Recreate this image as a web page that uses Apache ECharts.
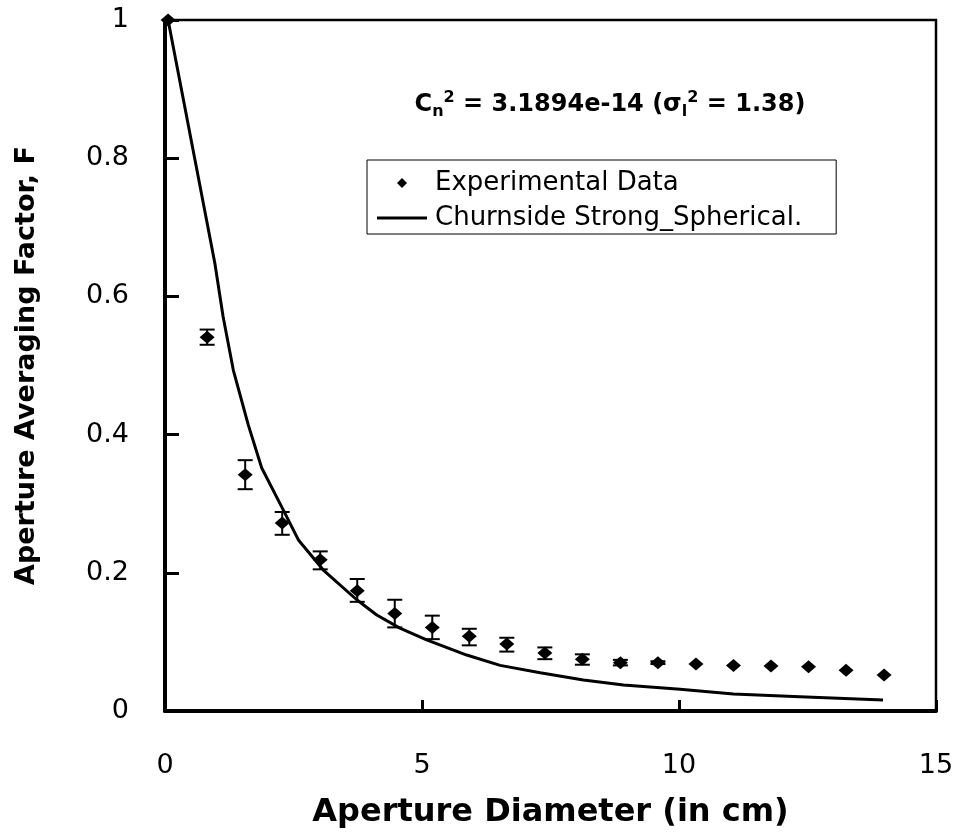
<!DOCTYPE html>
<html>
<head>
<meta charset="utf-8">
<script src="https://cdn.jsdelivr.net/npm/echarts@6/dist/echarts.min.js"></script>
<style>html,body{margin:0;padding:0;background:#fff;}#chart{width:960px;height:837px;}</style>
</head>
<body>
<div id="chart"></div>
<script>
// Experimental data (aperture diameter in cm, averaging factor)
const xExp    = [0.06, 0.82, 1.56, 2.28, 3.02, 3.74, 4.47, 5.20, 5.92, 6.65, 7.39, 8.12, 8.86, 9.59, 10.33, 11.06, 11.79, 12.52, 13.25, 13.99];
const yExp    = [1.0, 0.541, 0.342, 0.272, 0.219, 0.174, 0.141, 0.121, 0.108, 0.097, 0.084, 0.075, 0.070, 0.070, 0.068, 0.066, 0.065, 0.064, 0.059, 0.052];
const errHigh = [1.0, 0.552, 0.363, 0.288, 0.231, 0.191, 0.161, 0.138, 0.119, 0.106, 0.092, 0.082, 0.074, 0.072, 0.069, 0.066, 0.065, 0.064, 0.059, 0.052];
const errLow  = [1.0, 0.530, 0.321, 0.255, 0.205, 0.158, 0.121, 0.104, 0.095, 0.086, 0.075, 0.067, 0.066, 0.068, 0.067, 0.066, 0.065, 0.064, 0.059, 0.052];
// Churnside strong fluctuation theory, spherical wave
const xTheory = [0.06, 0.97, 1.13, 1.33, 1.62, 1.88, 2.30, 2.60, 3.08, 3.73, 4.12, 4.57, 5.09, 5.87, 6.52, 7.30, 8.14, 8.92, 10.02, 11.06, 12.35, 13.97];
const yTheory = [1.0, 0.648, 0.571, 0.493, 0.414, 0.352, 0.291, 0.247, 0.204, 0.161, 0.139, 0.120, 0.103, 0.081, 0.066, 0.0555, 0.045, 0.0376, 0.0314, 0.0246, 0.0207, 0.016];
const seriesNames = ['Experimental Data', 'Churnside Strong_Spherical.'];
const xTitle = 'Aperture Diameter (in cm)';
const yTitle = 'Aperture Averaging Factor, F';

const FONT = 'DejaVu Sans';
const chart = echarts.init(document.getElementById('chart'), null, {renderer: 'canvas'});

const option = {
  backgroundColor: '#fff',
  animation: false,
  grid: {left: 165, right: 24, top: 20, bottom: 126, show: true, borderColor: '#000', borderWidth: 2.5, backgroundColor: 'transparent'},
  xAxis: {
    type: 'value', min: 0, max: 15, interval: 5,
    name: xTitle, nameLocation: 'middle', nameGap: 86,
    nameTextStyle: {fontFamily: FONT, fontWeight: 'bold', fontSize: 32, color: '#000'},
    axisLine: {show: true, onZero: false, lineStyle: {color: '#000', width: 4}},
    axisTick: {show: true, inside: true, length: 11, lineStyle: {color: '#000', width: 3}},
    axisLabel: {fontFamily: FONT, fontSize: 27, color: '#000', margin: 41},
    splitLine: {show: false}
  },
  yAxis: {
    type: 'value', min: 0, max: 1, interval: 0.2,
    name: yTitle, nameLocation: 'middle', nameGap: 125,
    nameTextStyle: {fontFamily: FONT, fontWeight: 'bold', fontSize: 27, color: '#000'},
    axisLine: {show: true, onZero: false, lineStyle: {color: '#000', width: 4}},
    axisTick: {show: true, inside: true, length: 14, lineStyle: {color: '#000', width: 3}},
    axisLabel: {fontFamily: FONT, fontSize: 27, color: '#000', margin: 36},
    splitLine: {show: false}
  },
  legend: {
    left: 367, top: 160, orient: 'vertical',
    padding: [10, 34, 3, 10], itemGap: 9,
    itemWidth: 50, itemHeight: 10,
    borderColor: '#000', borderWidth: 1, backgroundColor: '#fff',
    textStyle: {fontFamily: FONT, fontSize: 26, color: '#000', lineHeight: 26, padding: [0, 0, 0, 3]},
    data: [
      {name: seriesNames[0], icon: 'path://M5,0L10,5L5,10L0,5Z', itemStyle: {color: '#000', opacity: 1}},
      {name: seriesNames[1], icon: 'path://M0,0L50,0L50,3L0,3Z', itemStyle: {color: '#000', opacity: 1}}
    ]
  },
  graphic: [{
    type: 'text', x: 610, y: 105, z: 100,
    style: {
      text: '{b|C}{sub|n}{sup|2}{b| = 3.1894e-14 (σ}{sub|l}{sup|2}{b| = 1.38)}',
      align: 'center', verticalAlign: 'middle', fill: '#000',
      rich: {
        b: {fontFamily: FONT, fontWeight: 'bold', fontSize: 24, lineHeight: 30, verticalAlign: 'middle', fill: '#000'},
        sup: {fontFamily: FONT, fontWeight: 'bold', fontSize: 16, lineHeight: 15, verticalAlign: 'top', fill: '#000'},
        sub: {fontFamily: FONT, fontWeight: 'bold', fontSize: 16, lineHeight: 15, verticalAlign: 'bottom', fill: '#000'}
      }
    }
  }],
  series: [
    {
      name: seriesNames[1], type: 'line', showSymbol: false, z: 2,
      lineStyle: {color: '#000', width: 3},
      itemStyle: {color: '#000'},
      data: xTheory.map((x, i) => [x, yTheory[i]])
    },
    {
      type: 'custom', name: 'error', z: 3, silent: true,
      data: xExp.map((x, i) => [x, errHigh[i], errLow[i]]),
      encode: {x: 0, y: [1, 2]},
      renderItem: function (params, api) {
        const x = api.value(0), hi = api.value(1), lo = api.value(2);
        const pHi = api.coord([x, hi]);
        const pLo = api.coord([x, lo]);
        if (Math.abs(pLo[1] - pHi[1]) < 1.5) return null;
        const hw = 7.5;
        const st = {stroke: '#000', lineWidth: 2};
        return {type: 'group', children: [
          {type: 'line', shape: {x1: pHi[0], y1: pHi[1], x2: pLo[0], y2: pLo[1]}, style: st},
          {type: 'line', shape: {x1: pHi[0] - hw, y1: pHi[1], x2: pHi[0] + hw, y2: pHi[1]}, style: st},
          {type: 'line', shape: {x1: pLo[0] - hw, y1: pLo[1], x2: pLo[0] + hw, y2: pLo[1]}, style: st}
        ]};
      }
    },
    {
      name: seriesNames[0], type: 'scatter', z: 4, clip: false,
      symbol: 'diamond', symbolSize: [15, 13],
      itemStyle: {color: '#000', opacity: 1},
      data: xExp.map((x, i) => [x, yExp[i]])
    }
  ]
};
chart.setOption(option);
</script>
</body>
</html>
